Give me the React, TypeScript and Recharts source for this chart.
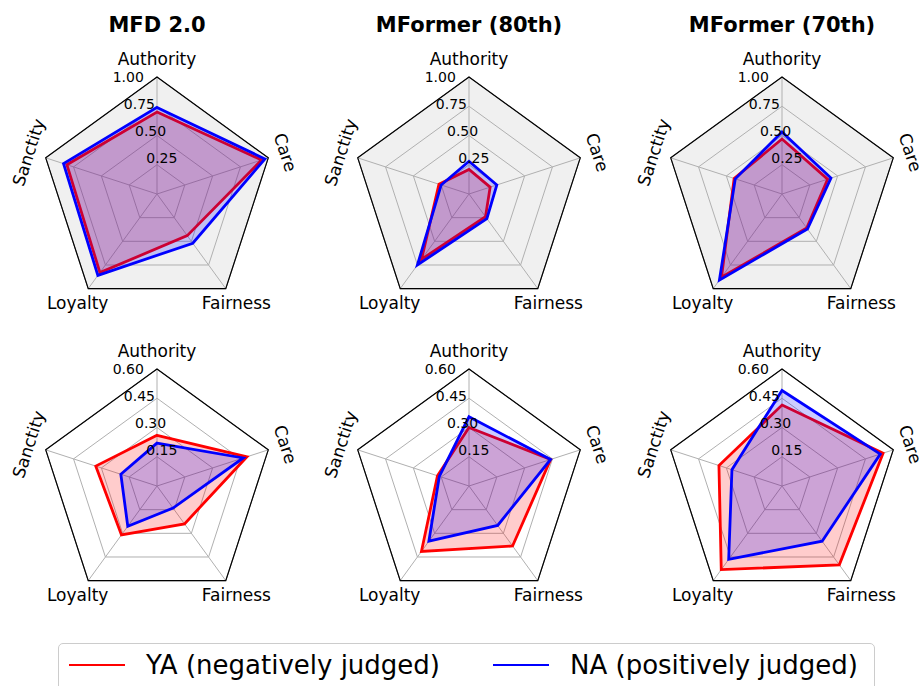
import React from "react";
import {
  RadarChart,
  Radar,
  PolarGrid,
  PolarAngleAxis,
  PolarRadiusAxis,
} from "recharts";

const CATEGORIES = ["Authority", "Care", "Fairness", "Loyalty", "Sanctity"];
const PANEL_TITLES = ["MFD 2.0", "MFormer (80th)", "MFormer (70th)"];
const SERIES_NAMES = ["YA (negatively judged)", "NA (positively judged)"];

const TOP_TICKS = [0.25, 0.5, 0.75, 1.0];
const BOTTOM_TICKS = [0.15, 0.3, 0.45, 0.6];

// top row
const YA_MFD2_TOP = [0.7, 0.94, 0.44, 0.83, 0.81];
const NA_MFD2_TOP = [0.74, 0.97, 0.52, 0.86, 0.84];
const YA_M80_TOP = [0.21, 0.19, 0.24, 0.69, 0.27];
const NA_M80_TOP = [0.28, 0.25, 0.26, 0.75, 0.25];
const YA_M70_TOP = [0.47, 0.41, 0.36, 0.88, 0.43];
const NA_M70_TOP = [0.53, 0.44, 0.37, 0.91, 0.42];

// bottom row
const YA_MFD2_BOTTOM = [0.26, 0.485, 0.24, 0.31, 0.33];
const NA_MFD2_BOTTOM = [0.22, 0.465, 0.14, 0.255, 0.195];
const YA_M80_BOTTOM = [0.3, 0.44, 0.38, 0.415, 0.17];
const NA_M80_BOTTOM = [0.355, 0.44, 0.25, 0.35, 0.16];
const YA_M70_BOTTOM = [0.415, 0.545, 0.5, 0.53, 0.34];
const NA_M70_BOTTOM = [0.49, 0.53, 0.35, 0.465, 0.27];

const FONT = "'DejaVu Sans', Verdana, sans-serif";
const R = 117;
const CW = 300;
const CH = 320;
const CX = 150;
const PANEL_CENTERS = [157, 469, 782];

function AngleTick(props: any) {
  const { payload, index } = props;
  const angle = typeof payload?.coordinate === "number" ? payload.coordinate : 90 - 72 * index;
  const rad = (angle * Math.PI) / 180;
  const d = R + 18;
  const x = props.cx + d * Math.cos(rad);
  const y = props.cy - d * Math.sin(rad);
  const rot = index === 1 ? 72 : index === 4 ? -72 : 0;
  return (
    <text
      x={x}
      y={y}
      textAnchor="middle"
      dominantBaseline="central"
      transform={`rotate(${rot} ${x} ${y})`}
      fontSize={17}
      fontFamily={FONT}
      fill="#000"
    >
      {payload.value}
    </text>
  );
}

function RadiusTick(props: any) {
  const { x, y, payload } = props;
  return (
    <text
      x={x + 16}
      y={y - 9}
      textAnchor="middle"
      dominantBaseline="central"
      fontSize={14}
      fontFamily={FONT}
      fill="#000"
    >
      {Number(payload.value).toFixed(2)}
    </text>
  );
}

interface PanelProps {
  ya: number[];
  na: number[];
  ticks: number[];
  bg: string;
  cy: number;
}

function RadarPanel({ ya, na, ticks, bg, cy }: PanelProps) {
  const max = ticks[ticks.length - 1];
  const rows = CATEGORIES.map((cat, i) => ({ cat, ya: ya[i], na: na[i] }));
  const radii = ticks.map((t) => (t / max) * R);
  return (
    <RadarChart
      width={CW}
      height={CH}
      cx={CX}
      cy={cy}
      outerRadius={R}
      data={rows}
      startAngle={90}
      endAngle={-270}
      margin={{ top: 0, right: 0, bottom: 0, left: 0 }}
    >
      <PolarGrid
        gridType="polygon"
        polarRadius={radii}
        stroke="#b0b0b0"
        strokeWidth={1}
        fill={bg}
        fillOpacity={1}
      />
      <PolarAngleAxis
        dataKey="cat"
        axisLineType="polygon"
        axisLine={{ stroke: "#000", strokeWidth: 1.2 }}
        tickLine={false}
        tick={(p: any) => <AngleTick {...p} cx={CX} cy={cy} />}
      />
      <PolarRadiusAxis
        type="number"
        domain={[0, max]}
        allowDecimals={true}
        allowDataOverflow={true}
        ticks={ticks}
        angle={112.5}
        axisLine={false}
        tickLine={false}
        tick={(p: any) => <RadiusTick {...p} />}
      />
      <Radar
        name={SERIES_NAMES[0]}
        dataKey="ya"
        stroke="#ff0000"
        strokeWidth={2.8}
        fill="#ff0000"
        fillOpacity={0.2}
        dot={false}
        isAnimationActive={false}
      />
      <Radar
        name={SERIES_NAMES[1]}
        dataKey="na"
        stroke="#0000ff"
        strokeWidth={2.8}
        fill="#0000ff"
        fillOpacity={0.2}
        dot={false}
        isAnimationActive={false}
      />
    </RadarChart>
  );
}

const TOP_PANELS = [
  { ya: YA_MFD2_TOP, na: NA_MFD2_TOP },
  { ya: YA_M80_TOP, na: NA_M80_TOP },
  { ya: YA_M70_TOP, na: NA_M70_TOP },
];
const BOTTOM_PANELS = [
  { ya: YA_MFD2_BOTTOM, na: NA_MFD2_BOTTOM },
  { ya: YA_M80_BOTTOM, na: NA_M80_BOTTOM },
  { ya: YA_M70_BOTTOM, na: NA_M70_BOTTOM },
];

export default function App() {
  return (
    <div
      style={{
        position: "absolute",
        left: 0,
        top: 0,
        width: 924,
        height: 686,
        overflow: "hidden",
        background: "#fff",
        fontFamily: FONT,
      }}
    >
      {PANEL_TITLES.map((t, i) => (
        <div
          key={t}
          style={{
            position: "absolute",
            left: PANEL_CENTERS[i] - 150,
            width: 300,
            top: 12,
            textAlign: "center",
            fontSize: 21,
            fontWeight: "bold",
            lineHeight: "26px",
          }}
        >
          {t}
        </div>
      ))}
      {TOP_PANELS.map((p, i) => (
        <div key={"t" + i} style={{ position: "absolute", left: PANEL_CENTERS[i] - CX, top: 0 }}>
          <RadarPanel ya={p.ya} na={p.na} ticks={TOP_TICKS} bg="#f0f0f0" cy={194} />
        </div>
      ))}
      {BOTTOM_PANELS.map((p, i) => (
        <div key={"b" + i} style={{ position: "absolute", left: PANEL_CENTERS[i] - CX, top: 300 }}>
          <RadarPanel ya={p.ya} na={p.na} ticks={BOTTOM_TICKS} bg="#ffffff" cy={186} />
        </div>
      ))}
      <div
        style={{
          position: "absolute",
          left: 58,
          top: 643,
          width: 817,
          height: 60,
          border: "1px solid #cccccc",
          borderRadius: 5,
          boxSizing: "border-box",
          display: "flex",
          alignItems: "flex-start",
          paddingTop: 6,
          paddingLeft: 10,
        }}
      >
        {SERIES_NAMES.map((name, i) => (
          <div
            key={name}
            style={{
              display: "flex",
              alignItems: "center",
              marginRight: i === 0 ? 53 : 0,
              height: 30,
            }}
          >
            <div
              style={{
                width: 56,
                height: 2,
                background: i === 0 ? "#ff0000" : "#0000ff",
                marginRight: 21,
              }}
            />
            <span style={{ fontSize: 26, lineHeight: "30px", whiteSpace: "nowrap" }}>{name}</span>
          </div>
        ))}
      </div>
    </div>
  );
}
